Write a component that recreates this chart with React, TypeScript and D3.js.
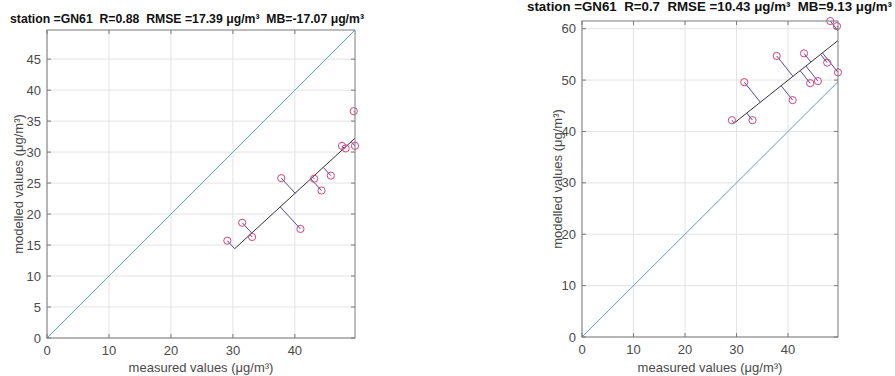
import React from "react";
import * as d3 from "d3";

const measured = [29.1, 31.5, 33.1, 37.8, 40.9, 43.1, 44.3, 45.8, 47.6, 48.2, 49.5, 49.7];
const modelledLeft = [15.7, 18.6, 16.3, 25.8, 17.6, 25.7, 23.8, 26.2, 31.0, 30.6, 36.6, 31.0];
const modelledRight = [42.2, 49.6, 42.2, 54.7, 46.1, 55.2, 49.4, 49.8, 53.4, 61.5, 60.5, 51.5];
const titleLeft = "station =GN61  R=0.88  RMSE =17.39 μg/m³  MB=-17.07 μg/m³";
const titleRight = "station =GN61  R=0.7  RMSE =10.43 μg/m³  MB=9.13 μg/m³";
const xTicks = [0, 10, 20, 30, 40];
const yTicksLeft = [0, 5, 10, 15, 20, 25, 30, 35, 40, 45];
const yTicksRight = [0, 10, 20, 30, 40, 50, 60];
const xLabel = "measured values (μg/m³)";
const yLabel = "modelled values (μg/m³)";

const FONT = "'Liberation Sans', Arial, Helvetica, sans-serif";
const AXIS = "#7a7a7a";
const TEXT = "#4a4a4a";
const GRID = "#e3e3e3";

type PanelProps = {
  id: string;
  xs: number[];
  ys: number[];
  left: number;
  top: number;
  width: number;
  height: number;
  yTicks: number[];
  title: string;
  titleX: number;
  titleY: number;
  titleSize: number;
  titleLen: number;
  yLabelX: number;
};

function tls(xs: number[], ys: number[]) {
  const mx = d3.mean(xs) as number;
  const my = d3.mean(ys) as number;
  let sxx = 0, syy = 0, sxy = 0;
  xs.forEach((x, i) => {
    const dx = x - mx, dy = ys[i] - my;
    sxx += dx * dx; syy += dy * dy; sxy += dx * dy;
  });
  const th = 0.5 * Math.atan2(2 * sxy, sxx - syy);
  const c = Math.cos(th), s = Math.sin(th);
  const feet = xs.map((x, i) => {
    const t = (x - mx) * c + (ys[i] - my) * s;
    return { t, x: mx + t * c, y: my + t * s };
  });
  const tmin = d3.min(feet, f => f.t) as number;
  const tmax = d3.max(feet, f => f.t) as number;
  return {
    feet,
    a: { x: mx + tmin * c, y: my + tmin * s },
    b: { x: mx + tmax * c, y: my + tmax * s },
  };
}

function Panel(p: PanelProps) {
  const xMax = d3.max(p.xs) as number;
  const yMax = Math.max(xMax, d3.max(p.ys) as number);
  const x = d3.scaleLinear().domain([0, xMax]).range([p.left, p.left + p.width]);
  const y = d3.scaleLinear().domain([0, yMax]).range([p.top + p.height, p.top]);
  const fit = tls(p.xs, p.ys);
  const bottom = p.top + p.height;
  const right = p.left + p.width;
  const tl = 4;
  return (
    <g fontFamily={FONT}>
      <defs>
        <clipPath id={p.id}>
          <rect x={p.left} y={p.top} width={p.width} height={p.height} />
        </clipPath>
      </defs>
      <rect x={p.left} y={p.top} width={p.width} height={p.height} fill="#fff" />
      {xTicks.map(t => (
        <line key={"gx" + t} x1={x(t)} x2={x(t)} y1={p.top} y2={bottom} stroke={GRID} strokeWidth={1} />
      ))}
      {p.yTicks.map(t => (
        <line key={"gy" + t} x1={p.left} x2={right} y1={y(t)} y2={y(t)} stroke={GRID} strokeWidth={1} />
      ))}
      <g clipPath={`url(#${p.id})`}>
        <line x1={x(0)} y1={y(0)} x2={x(xMax)} y2={y(xMax)} stroke="#5a9fd2" strokeWidth={1} />
        <line x1={x(fit.a.x)} y1={y(fit.a.y)} x2={x(fit.b.x)} y2={y(fit.b.y)} stroke="#333" strokeWidth={1} />
        {fit.feet.map((f, i) => (
          <line key={"s" + i} x1={x(p.xs[i])} y1={y(p.ys[i])} x2={x(f.x)} y2={y(f.y)} stroke="#5548a8" strokeWidth={1} />
        ))}
      </g>
      {p.xs.map((v, i) => (
        <circle key={"c" + i} cx={x(v)} cy={y(p.ys[i])} r={3.6} fill="none" stroke="#d0457e" strokeWidth={1} />
      ))}
      <rect x={p.left} y={p.top} width={p.width} height={p.height} fill="none" stroke={AXIS} strokeWidth={1} />
      {xTicks.map(t => (
        <g key={"tx" + t}>
          <line x1={x(t)} x2={x(t)} y1={bottom} y2={bottom - tl} stroke={AXIS} />
          <line x1={x(t)} x2={x(t)} y1={p.top} y2={p.top + tl} stroke={AXIS} />
          <text x={x(t)} y={bottom + 17} textAnchor="middle" fontSize={13} fill={TEXT}>{t}</text>
        </g>
      ))}
      {p.yTicks.map(t => (
        <g key={"ty" + t}>
          <line x1={p.left} x2={p.left + tl} y1={y(t)} y2={y(t)} stroke={AXIS} />
          <line x1={right} x2={right - tl} y1={y(t)} y2={y(t)} stroke={AXIS} />
          <text x={p.left - 6} y={y(t)} dy="0.35em" textAnchor="end" fontSize={13} fill={TEXT}>{t}</text>
        </g>
      ))}
      <text x={(p.left + right) / 2} y={372} textAnchor="middle" fontSize={13} fill={TEXT}>{xLabel}</text>
      <text transform={`translate(${p.yLabelX},${(p.top + bottom) / 2}) rotate(-90)`} dy="0.35em" textAnchor="middle" fontSize={13} fill={TEXT}>{yLabel}</text>
      <text x={p.titleX} y={p.titleY} textAnchor="start" fontSize={p.titleSize} fontWeight="bold" fill="#111"
        textLength={p.titleLen} lengthAdjust="spacingAndGlyphs" style={{ whiteSpace: "pre" }}>{p.title}</text>
    </g>
  );
}

export default function App() {
  return (
    <svg width={895} height={376} style={{ position: "absolute", left: 0, top: 0, background: "#fff" }}>
      <rect width={895} height={376} fill="#fff" />
      <Panel id="clipL" xs={measured} ys={modelledLeft} left={47} top={30} width={308} height={308}
        yTicks={yTicksLeft} title={titleLeft} titleX={10} titleY={23} titleSize={13} titleLen={354} yLabelX={18} />
      <Panel id="clipR" xs={measured} ys={modelledRight} left={582} top={21} width={256} height={316}
        yTicks={yTicksRight} title={titleRight} titleX={527} titleY={11} titleSize={13.2} titleLen={365} yLabelX={557} />
    </svg>
  );
}
